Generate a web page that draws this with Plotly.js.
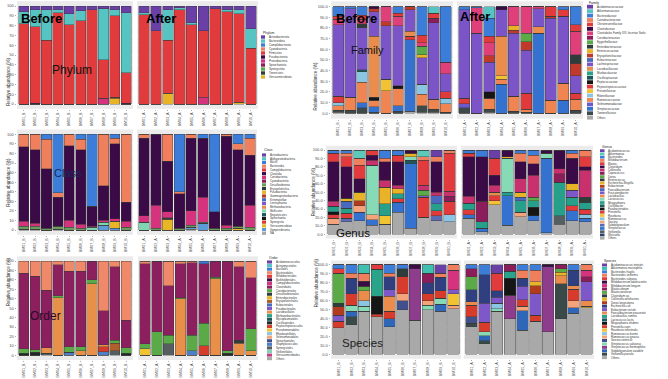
<!DOCTYPE html>
<html><head><meta charset="utf-8">
<script src="https://cdn.plot.ly/plotly-3.0.1.min.js"></script>
<style>html,body{margin:0;padding:0;background:#fff;}#chart{width:668px;height:379px;}</style>
</head><body><div id="chart"></div>
<script>
// ---------------- DATA ----------------
const beforeSamples = ['BM01_B','BM02_B','BM03_B','BM04_B','BM05_B','BM06_B','BM07_B','BM08_B','BM09_B','BM10_B'];
const afterSamples  = ['BM01_A','BM02_A','BM03_A','BM04_A','BM05_A','BM06_A','BM07_A','BM08_A','BM09_A','BM10_A'];
const yTickValues = [0,10,20,30,40,50,60,70,80,90,100];

const phylumTaxa = ['Actinobacteriota','Bacteroidota','Campilobacterota','Cyanobacteria','Firmicutes','Fusobacteriota','Proteobacteria','Spirochaetota','Synergistota','Tenericutes','Verrucomicrobiota'];
const phylumBefore = [
 [6,4,4,4,8,5,4,3,4,7],
 [12,17,31,3,11,10,0,52,6,61],
 [0,0,0,0,0,0,0,0,0,0],
 [0,0,0,0,0,0,0,0,0,0],
 [82,78,65,93,81,85,96,39,83,31],
 [0,1,0,0,0,0,0,0,0,1],
 [0,0,0,0,0,0,0,6,1,0],
 [0,0,0,0,0,0,0,0,0,0],
 [0,0,0,0,0,0,0,0,0,0],
 [0,0,0,0,0,0,0,0,0,0],
 [0,0,0,0,0,0,0,0,6,0]];
const phylumAfter = [
 [7,25,4,2,17,25,3,4,4,23],
 [2,0,31,2,2,0,0,2,4,20],
 [0,0,0,0,0,0,0,0,0,0],
 [0,0,0,0,0,0,0,0,0,0],
 [91,75,54,96,81,68,97,94,90,57],
 [0,0,0,0,0,0,0,0,0,0],
 [0,0,0,0,0,7,0,0,0,0],
 [0,0,0,0,0,0,0,0,0,0],
 [0,0,0,0,0,0,0,0,0,0],
 [0,0,0,0,0,0,0,0,0,0],
 [0,0,11,0,0,0,0,0,2,0]];

const classTaxa = ['Actinobacteria','Alphaproteobacteria','Bacilli','Bacteroidia','Campylobacteria','Clostridia','Coriobacteriia','Cyanobacteriia','Desulfovibrionia','Erysipelotrichia','Fusobacteriia','Gammaproteobacteria','Kiritimatiellae','Lentisphaeria','Methanobacteria','Mollicutes','Negativicutes','Spirochaetia','Synergistia','Verrucomicrobiae','Vampirivibrionia','NA'];
const classBefore = [
 [0,0,0,0,0,0,0,0,0,0],
 [0,0,0,0,0,0,0,0,0,0],
 [0,0,5,61,0,5,75,0,4,0],
 [13,16,31,5,12,11,0,54,6,71],
 [0,0,0,0,0,0,0,0,0,0],
 [78,77,62,30,78,78,21,36,78,20],
 [5,3,0,0,7,4,1,2,3,6],
 [0,0,0,0,0,0,0,0,0,0],
 [3,3,2,3,3,2,0,0,0,3],
 [0,0,0,0,0,0,0,0,0,0],
 [0,0,0,0,0,0,0,0,0,0],
 [0,0,0,0,0,0,0,0,0,0],
 [0,0,0,0,0,0,0,0,0,0],
 [0,0,0,0,0,0,0,0,0,0],
 [0,0,0,0,0,0,0,0,0,0],
 [0,0,0,0,0,0,3,3,0,0],
 [0,0,0,0,0,0,0,0,0,0],
 [0,0,0,0,0,0,0,0,0,0],
 [0,0,0,0,0,0,0,0,0,0],
 [0,0,0,0,0,0,0,0,7,0],
 [0,0,0,0,0,0,0,5,2,0],
 [1,1,0,1,0,0,0,0,0,0]];
const classAfter = [
 [0,0,0,0,0,0,0,0,0,0],
 [0,0,0,0,0,0,0,0,0,0],
 [0,0,0,60,0,4,81,0,10,4],
 [4,0,28,2,4,0,0,2,6,18],
 [0,0,0,0,0,0,0,0,0,0],
 [81,74,53,36,76,62,17,93,80,52],
 [7,24,6,0,15,26,0,3,0,23],
 [0,0,0,0,0,0,0,0,0,0],
 [0,2,0,2,2,1,2,2,2,3],
 [0,0,2,0,0,0,0,0,0,0],
 [0,0,0,0,0,0,0,0,0,0],
 [0,0,0,0,0,0,0,0,0,0],
 [0,0,0,0,0,0,0,0,0,0],
 [0,0,0,0,0,0,0,0,0,0],
 [0,0,0,0,0,0,0,0,0,0],
 [8,0,0,0,0,0,0,0,0,0],
 [0,0,0,0,0,0,0,0,0,0],
 [0,0,0,0,0,0,0,0,0,0],
 [0,0,0,0,0,0,0,0,0,0],
 [0,0,11,0,0,0,0,0,2,0],
 [0,0,0,0,2,7,0,0,0,0],
 [0,0,0,0,1,0,0,0,0,0]];

const orderTaxa = ['Acidaminococcales','Actinomycetales','Bacillales','Bacteroidales','Bifidobacteriales','Burkholderiales','Campylobacterales','Clostridiales','Coriobacteriales','Desulfovibrionales','Enterobacterales','Erysipelotrichales','Eubacteriales','Fusobacteriales','Lactobacillales','Methanobacteriales','Mycoplasmatales','Oscillospirales','Peptostreptococcales','Pseudomonadales','Rhodospirillales','Selenomonadales','Spirochaetales','Staphylococcales','Synergistales','Veillonellales','Verrucomicrobiales','Others'];
const orderBefore = [
 [0,0,0,0,0,0,0,0,0,0],
 [0,0,0,0,0,0,0,0,0,0],
 [0,0,0,0,0,0,0,0,0,0],
 [13,16,31,4,11,11,0,53,6,63],
 [0,0,0,0,0,0,0,0,0,0],
 [0,0,0,0,0,0,0,0,0,0],
 [0,0,0,0,0,0,0,0,0,0],
 [80,78,61,33,80,80,20,36,78,29],
 [5,3,0,2,6,4,4,0,3,6],
 [0,0,0,0,0,0,0,0,0,0],
 [0,0,0,0,0,0,0,0,0,0],
 [0,0,0,0,0,0,0,0,8,0],
 [0,0,0,0,0,0,0,0,0,0],
 [0,0,0,0,0,0,0,0,0,0],
 [0,0,6,61,0,5,76,2,0,0],
 [0,0,0,0,0,0,0,0,0,0],
 [0,0,0,0,0,0,0,0,0,0],
 [2,3,0,0,0,0,0,0,0,2],
 [0,0,0,0,0,0,0,5,0,0],
 [0,0,0,0,0,0,0,0,0,0],
 [0,0,0,0,0,0,0,0,0,0],
 [0,0,0,0,0,0,0,0,0,0],
 [0,0,0,0,0,0,0,0,0,0],
 [0,0,0,0,3,0,0,4,0,0],
 [0,0,2,0,0,0,0,0,5,0],
 [0,0,0,0,0,0,0,0,0,0],
 [0,0,0,0,0,0,0,0,0,0],
 [0,0,0,0,0,0,0,0,0,0]];
const orderAfter = [
 [0,0,0,0,0,0,0,0,0,0],
 [0,0,0,0,0,0,0,0,0,0],
 [0,0,0,0,0,3,0,0,0,0],
 [3,0,26,3,2,0,0,0,6,18],
 [0,0,0,0,0,0,0,0,0,0],
 [0,0,0,0,0,0,0,0,0,0],
 [0,0,0,0,0,0,0,0,0,0],
 [85,75,53,36,77,63,17,95,78,54],
 [5,25,9,1,16,24,2,3,0,23],
 [0,0,0,0,0,0,0,0,3,0],
 [0,0,0,0,0,0,0,0,0,0],
 [0,0,0,0,0,0,0,0,0,0],
 [0,0,0,0,0,0,0,0,0,0],
 [0,0,0,0,0,0,0,0,0,0],
 [0,0,0,60,0,0,81,0,13,5],
 [0,0,0,0,0,0,0,0,0,0],
 [0,0,0,0,0,0,0,0,0,0],
 [0,0,0,0,0,0,0,2,0,0],
 [0,0,0,0,0,10,0,0,0,0],
 [7,0,0,0,0,0,0,0,0,0],
 [0,0,0,0,0,0,0,0,0,0],
 [0,0,0,0,0,0,0,0,0,0],
 [0,0,0,0,0,0,0,0,0,0],
 [0,0,0,0,5,0,0,0,0,0],
 [0,0,12,0,0,0,0,0,0,0],
 [0,0,0,0,0,0,0,0,0,0],
 [0,0,0,0,0,0,0,0,0,0],
 [0,0,0,0,0,0,0,0,0,0]];

const familyTaxa = ['Acidaminococcaceae','Akkermansiaceae','Bacteroidaceae','Carnobacteriaceae','Christensenellaceae','Clostridiaceae','Clostridiales Family XIII. Incertae Sedis','Coriobacteriaceae','Eggerthellaceae','Enterobacteriaceae','Enterococcaceae','Erysipelotrichaceae','Eubacteriaceae','Lachnospiraceae','Lactobacillaceae','Muribaculaceae','Oscillospiraceae','Peptococcaceae','Peptostreptococcaceae','Prevotellaceae','Rikenellaceae','Ruminococcaceae','Selenomonadaceae','Streptococcaceae','Tannerellaceae','Others'];
const familyBefore = [
 [0,0,0,0,0,0,0,0,0,0],
 [0,0,0,0,0,0,0,0,6,0],
 [9,2,8,0,0,6,0,27,0,52],
 [0,0,0,0,0,0,0,0,0,0],
 [3,0,4,0,0,3,0,7,5,0],
 [0,0,0,2,0,0,0,0,0,0],
 [5,0,4,0,14,9,0,3,0,11],
 [0,0,0,0,0,0,0,0,4,0],
 [0,0,0,0,0,0,0,8,0,0],
 [0,0,4,0,0,0,0,0,0,0],
 [0,0,0,0,0,0,0,3,0,0],
 [0,0,0,3,4,0,3,0,0,0],
 [0,0,0,0,0,0,0,0,0,0],
 [67,83,39,23,50,56,20,25,72,17],
 [0,0,0,57,0,0,5,0,0,0],
 [0,0,0,0,0,0,0,0,0,0],
 [0,0,2,0,0,0,0,0,0,0],
 [0,0,0,3,0,3,0,0,0,0],
 [6,0,0,0,0,0,3,0,0,6],
 [0,0,0,0,11,0,0,0,0,0],
 [3,0,10,0,0,0,0,9,0,5],
 [4,12,19,6,21,16,0,11,9,8],
 [0,0,0,0,0,0,0,0,0,0],
 [0,0,5,5,0,5,67,0,0,0],
 [2,3,5,1,0,2,0,6,3,1],
 [1,0,0,0,0,0,2,1,1,0]];
const familyAfter = [
 [0,0,0,0,0,0,0,0,0,0],
 [0,0,11,0,0,0,0,0,0,0],
 [3,1,17,0,0,0,0,0,3,17],
 [0,0,0,0,0,0,0,0,0,0],
 [0,0,6,0,0,0,0,9,6,6],
 [0,0,0,3,0,0,0,0,0,0],
 [0,24,12,0,18,25,2,0,0,22],
 [0,0,0,0,0,0,0,0,0,0],
 [0,0,0,0,0,8,0,0,0,0],
 [0,0,0,0,0,0,0,0,0,8],
 [0,0,0,0,4,0,0,0,0,0],
 [0,0,6,0,3,8,0,2,0,12],
 [0,0,0,0,0,0,0,0,0,0],
 [83,75,28,25,59,40,17,77,63,16],
 [0,0,0,37,0,0,6,0,0,0],
 [0,0,0,0,0,0,0,0,0,0],
 [0,0,0,0,0,0,0,0,0,0],
 [0,0,6,0,0,0,0,0,0,0],
 [5,0,0,0,0,15,0,0,0,6],
 [0,0,0,3,0,0,0,0,0,0],
 [0,0,0,0,0,0,0,0,0,0],
 [0,0,10,5,14,3,0,12,16,10],
 [4,0,0,0,0,0,0,0,0,0],
 [0,0,0,27,0,0,75,0,12,0],
 [5,0,3,0,2,1,0,0,0,3],
 [0,0,1,0,0,0,0,0,0,0]];

const genusTaxa = ['Acidaminococcus','Akkermansia','Bacteroides','Bifidobacterium','Blautia','Clostridium','Collinsella','Coprococcus','Dorea','Enterococcus','Escherichia-Shigella','Eubacterium','Faecalibacterium','Fusicatenibacter','Lactobacillus','Lactococcus','Megasphaera','Oscillibacter','Parabacteroides','Prevotella','Roseburia','Ruminococcus','Sarcina','Subdoligranulum','Streptococcus','Veillonella','Weissella','Others'];
const genusBefore = [
 [0,0,0,0,0,0,0,0,8,0],
 [0,0,10,0,0,0,0,8,0,0],
 [4,4,0,0,10,6,0,0,0,0],
 [0,4,8,0,4,0,0,4,6,4],
 [10,12,16,6,0,8,0,30,0,45],
 [47,37,16,6,22,28,4,0,36,0],
 [6,0,0,6,8,4,0,6,4,6],
 [0,0,0,0,0,0,0,0,0,6],
 [0,0,0,0,0,0,0,6,0,0],
 [0,0,0,0,0,0,0,0,0,0],
 [0,4,10,0,20,6,4,0,0,0],
 [0,0,6,0,0,0,0,0,0,0],
 [0,8,0,0,0,0,0,0,10,0],
 [0,0,0,0,0,0,0,2,0,0],
 [0,0,0,0,0,0,0,0,0,0],
 [0,0,0,59,0,0,4,0,0,0],
 [6,6,0,0,14,6,0,0,8,0],
 [0,0,0,0,0,0,4,0,0,0],
 [4,0,0,0,0,0,0,0,0,0],
 [4,6,0,0,0,4,0,24,6,16],
 [0,0,0,0,10,0,0,0,0,0],
 [0,0,0,0,0,0,0,0,0,8],
 [7,0,8,6,0,0,0,0,0,0],
 [0,4,0,0,0,0,0,0,6,0],
 [0,0,10,6,0,12,77,0,0,0],
 [0,0,0,0,0,0,0,0,0,0],
 [0,0,0,0,0,0,0,0,0,0],
 [12,15,16,11,12,26,7,20,16,15]];
const genusAfter = [
 [0,0,10,0,0,0,0,0,0,0],
 [0,0,0,0,0,0,0,0,0,0],
 [4,8,0,0,4,6,0,0,4,0],
 [0,0,0,0,10,10,0,0,6,8],
 [4,0,20,0,0,0,0,0,0,12],
 [47,53,12,8,20,14,4,22,30,4],
 [8,0,8,0,16,26,0,6,0,32],
 [0,24,0,0,0,0,0,10,0,0],
 [0,0,0,0,0,4,0,0,0,0],
 [0,0,0,0,0,0,0,0,0,6],
 [0,0,0,2,6,0,0,0,8,0],
 [0,0,0,0,0,0,0,0,0,0],
 [0,0,0,0,4,0,0,0,0,0],
 [0,0,0,0,0,0,0,0,8,0],
 [0,0,4,0,0,0,0,0,0,0],
 [0,0,0,40,0,0,6,0,0,0],
 [8,8,0,4,14,8,0,40,10,8],
 [0,0,0,0,0,0,0,0,0,0],
 [0,0,0,0,0,10,0,0,0,0],
 [6,0,6,0,0,0,0,0,6,6],
 [0,0,5,0,0,0,0,0,0,0],
 [0,0,0,0,0,0,0,0,0,5],
 [0,0,0,0,5,0,0,0,0,0],
 [0,0,0,0,0,0,0,0,0,0],
 [4,4,0,35,0,6,88,0,12,4],
 [0,0,0,0,0,0,0,10,0,0],
 [0,0,0,0,0,0,0,0,0,0],
 [19,3,35,11,21,16,2,12,16,15]];

const speciesTaxa = ['Acidaminococcus intestini','Akkermansia muciniphila','Bacteroides fragilis','Bacteroides uniformis','Bacteroides vulgatus','Bifidobacterium adolescentis','Bifidobacterium longum','Blautia obeum','Blautia wexlerae','Clostridium sp.','Collinsella aerofaciens','Dorea longicatena','Escherichia coli','Eubacterium rectale','Faecalibacterium prausnitzii','Lactobacillus ruminis','Lactococcus lactis','Megasphaera elsdenii','Prevotella copri','Roseburia intestinalis','Ruminococcus bromii','Ruminococcus gnavus','Sarcina ventriculi','Streptococcus salivarius','Streptococcus thermophilus','Subdoligranulum variabile','Veillonella parvula','Others'];
const speciesBefore = [
 [0,0,0,0,0,0,0,0,9,0],
 [0,0,9,0,0,0,0,9,0,0],
 [4,9,0,0,9,4,0,0,0,0],
 [0,6,9,0,4,0,0,0,5,6],
 [5,0,0,5,0,0,0,0,0,0],
 [0,0,6,0,0,0,4,0,0,0],
 [0,0,0,0,0,0,0,0,0,22],
 [0,0,0,0,0,0,0,11,0,0],
 [34,0,5,0,0,0,0,0,0,0],
 [4,0,0,0,0,9,0,0,0,0],
 [0,0,0,0,0,0,0,0,0,0],
 [9,0,0,0,0,0,0,0,0,0],
 [0,17,0,0,15,0,0,12,15,0],
 [7,0,0,0,7,0,0,0,0,4],
 [0,0,11,0,17,0,0,0,0,0],
 [0,0,0,30,0,0,0,0,0,0],
 [0,0,0,0,0,0,0,0,0,0],
 [0,0,0,20,0,0,0,0,0,0],
 [7,13,0,3,8,19,0,8,8,0],
 [0,0,0,0,0,0,0,0,0,13],
 [0,0,6,0,0,0,0,0,0,0],
 [0,0,0,0,0,8,0,5,0,4],
 [0,0,0,0,0,10,0,0,0,0],
 [0,7,6,0,0,0,0,5,7,0],
 [0,0,0,0,0,0,58,0,0,0],
 [0,6,0,0,9,0,0,0,8,0],
 [0,9,0,0,0,0,0,0,0,0],
 [30,33,48,42,31,50,38,50,48,51]];
const speciesAfter = [
 [0,0,9,0,0,0,0,0,0,0],
 [0,0,0,0,0,0,0,0,0,0],
 [4,11,0,0,6,6,0,0,6,0],
 [0,0,0,0,9,13,0,0,0,6],
 [0,0,20,0,0,0,0,0,0,0],
 [0,0,0,0,0,0,2,0,0,0],
 [0,0,0,0,0,0,0,0,0,7],
 [9,0,0,7,0,0,0,4,0,6],
 [15,0,0,0,0,0,0,4,0,0],
 [0,0,0,0,0,0,0,0,0,0],
 [0,0,0,0,0,4,0,4,0,0],
 [0,0,0,0,0,9,0,0,0,0],
 [13,32,7,0,9,0,0,0,17,0],
 [0,21,7,0,15,24,0,0,0,21],
 [4,0,0,0,0,0,0,9,4,6],
 [0,0,0,8,0,0,0,0,0,0],
 [0,0,0,0,0,0,0,0,0,0],
 [0,0,0,19,0,0,0,0,0,0],
 [13,11,0,0,7,7,0,0,13,0],
 [0,0,0,0,0,0,0,0,0,2],
 [0,0,6,0,0,0,0,0,0,0],
 [0,0,0,0,5,0,0,0,8,0],
 [7,0,0,0,0,0,0,0,0,0],
 [0,4,3,0,0,0,0,0,0,0],
 [0,0,0,26,0,0,73,0,0,0],
 [0,6,0,0,22,0,0,0,6,0],
 [4,3,0,0,0,0,0,39,0,0],
 [31,12,48,40,27,37,25,40,46,52]];

// ---------------- STYLES ----------------
const phylumColors = ['#6A3FA6','#56C4C2','#3B7DD8','#F07F5E','#E23B3D','#3A0B47','#D6337E','#8A1D5A','#5AAA47','#2E3D3A','#E8B326'];
const classColors = ['#6A3FA6','#56C4C2','#3B7DD8','#F07F5E','#E23B3D','#3A0B47','#D6337E','#8A1D5A','#6E9A5E','#2E3D3A','#E8B326','#B23A1F','#4A68BE','#7E58C9','#E98C4C','#7FD5B2','#1D5959','#161616','#D63B2B','#E8B526','#5C9BD6','#A9A9A9'];
const orderColors = ['#6A3FA6','#56C4C2','#3B7DD8','#F0896A','#E23B3D','#3A0B47','#D6337E','#8C1F5E','#5AAA47','#2E3D3A','#E8B326','#B0602A','#4A68BE','#7E58C9','#E8904A','#2AA38B','#1D5959','#1F2A26','#D63B2B','#F1C232','#8AC5E4','#F4A37A','#41508B','#4C7FC8','#555E60','#7FD5B2','#C04080','#A9A9A9'];
const familyColors = ['#6A3FA6','#56C4C2','#3B7DD8','#F07F5E','#E23B3D','#3A0B47','#E0407A','#8A1D5A','#5AAA47','#2E3D3A','#E8B326','#C0392B','#4A68BE','#7B55C8','#E98C4C','#2AA38B','#1D5959','#161616','#E03A3A','#F1C232','#8AC5E4','#F08552','#6A5ACD','#3572D0','#3D4A49','#A9A9A9'];
const genusColors = ['#6A3FA6','#5CCAB8','#3B7DD8','#F07F5E','#E23B3D','#3A0B47','#C8306E','#8A1D5A','#5AAA47','#2E3D3A','#E8B326','#B23A1F','#4A68BE','#7E58C9','#E98C4C','#86DAB5','#26A08A','#1D5959','#161616','#E03A3A','#F1C232','#8AC5E4','#F4A37A','#5B6BB0','#3572D0','#555E60','#2C3E6B','#A9A9A9'];
const speciesColors = ['#6A3FA6','#3FBFB0','#3B7DD8','#F07F5E','#E23B3D','#3A0B47','#D6337E','#8A1D5A','#5AAA47','#2E3D3A','#E8B326','#B23A1F','#2F3F80','#7E58C9','#E98C4C','#2AA38B','#1D5959','#161616','#D63B2B','#F1C232','#8AC5E4','#F4A37A','#41508B','#86DAB5','#8E3C8C','#2E66B8','#3A4A48','#A9A9A9'];

const W = 668, H = 379;
const px = v => v / W, py = v => 1 - v / H;
const data = [];
const shapes = [];
const annotations = [];
const layout = {
  width: W, height: H, margin: {l:0, r:0, t:0, b:0},
  paper_bgcolor: '#FFFFFF', plot_bgcolor: '#EBEBEB',
  barmode: 'stack', bargap: 0.1, showlegend: false,
  font: {family: 'Liberation Sans, Arial, sans-serif', color: '#4D4D4D'},
  shapes: shapes, annotations: annotations
};

function addPanel(idx, taxa, colors, beforeM, afterM, g, decimals) {
  const facets = [[beforeM, beforeSamples, g.bx, true], [afterM, afterSamples, g.ax, false]];
  facets.forEach(([M, samples, xr, first], f) => {
    const n = idx * 2 + f + 1;
    const xa = n === 1 ? 'x' : 'x' + n;
    const ya = n === 1 ? 'y' : 'y' + n;
    for (let i = taxa.length - 1; i >= 0; i--) {
      if (M[i].every(v => v === 0)) continue;
      data.push({type: 'bar', x: samples, y: M[i], name: taxa[i], xaxis: xa, yaxis: ya,
        marker: {color: colors[i], line: {color: '#3A3A3A', width: 0.4}},
        hoverinfo: 'name+y', showlegend: false});
    }
    const sfx = n === 1 ? '' : String(n);
    layout['xaxis' + sfx] = {domain: [px(xr[0]), px(xr[1])], anchor: ya, type: 'category',
      range: [-0.6, 9.6], tickmode: 'array', tickvals: samples, ticktext: samples, tickangle: -90,
      tickfont: {size: 3.6, color: '#4D4D4D'}, ticks: 'outside', ticklen: 1.2, tickwidth: 0.4, tickcolor: '#333',
      showgrid: false, zeroline: false, showline: false, fixedrange: true};
    layout['yaxis' + sfx] = {domain: [py(g.y[1]), py(g.y[0])], anchor: xa, range: [-5, 105],
      tickmode: 'array', tickvals: yTickValues, ticktext: yTickValues.map(v => v.toFixed(decimals)),
      showticklabels: first, ticks: first ? 'outside' : '', ticklen: 1.5, tickwidth: 0.4, tickcolor: '#333',
      tickfont: {size: 4, color: '#4D4D4D'}, showgrid: true, gridcolor: '#FFFFFF', gridwidth: 0.5,
      zeroline: false, showline: false, fixedrange: true};
  });
  annotations.push({text: 'Relative abundance (%)', x: px(g.yt), y: py((g.y[0] + g.y[1]) / 2),
    xref: 'paper', yref: 'paper', showarrow: false, textangle: -90, font: {size: 4.5, color: '#333'}});
  const L = g.leg;
  annotations.push({text: L.title, x: px(L.x), y: py(L.ty), xref: 'paper', yref: 'paper', xanchor: 'left', yanchor: 'middle',
    showarrow: false, font: {size: 3.4, color: '#222'}});
  taxa.forEach((t, i) => {
    const yc = L.y0 + i * L.dy;
    shapes.push({type: 'rect', xref: 'paper', yref: 'paper', x0: px(L.x), x1: px(L.x + L.sw),
      y0: py(yc + L.sh / 2), y1: py(yc - L.sh / 2), fillcolor: colors[i], line: {width: 0}});
    annotations.push({text: t, x: px(L.x + L.sw + 1.5), y: py(yc), xref: 'paper', yref: 'paper',
      xanchor: 'left', yanchor: 'middle', showarrow: false, font: {size: 2.8, color: '#333'}});
  });
}

addPanel(0, phylumTaxa, phylumColors, phylumBefore, phylumAfter,
  {bx: [17, 133], ax: [137, 258], y: [1.1, 108.9], yt: 4,
   leg: {title: 'Phylum', x: 261, ty: 33, y0: 37, dy: 4.0, sw: 4, sh: 3.4}}, 0);
addPanel(1, classTaxa, classColors, classBefore, classAfter,
  {bx: [17, 133], ax: [137, 257], y: [129.5, 234.8], yt: 4,
   leg: {title: 'Class', x: 262, ty: 150, y0: 155, dy: 3.73, sw: 4, sh: 3.2}}, 0);
addPanel(2, orderTaxa, orderColors, orderBefore, orderAfter,
  {bx: [17, 133], ax: [138, 258], y: [256.3, 360], yt: 4,
   leg: {title: 'Order', x: 267, ty: 257.5, y0: 262, dy: 3.58, sw: 5, sh: 3.1}}, 0);
addPanel(3, familyTaxa, familyColors, familyBefore, familyAfter,
  {bx: [331, 453], ax: [457, 583], y: [1.3, 118.6], yt: 315,
   leg: {title: 'Family', x: 587, ty: 2.5, y0: 6.7, dy: 4.44, sw: 6, sh: 3.8}}, 1);
addPanel(4, genusTaxa, genusColors, genusBefore, genusAfter,
  {bx: [326, 457], ax: [461, 593], y: [145.8, 238.5], yt: 313,
   leg: {title: 'Genus', x: 600, ty: 147, y0: 150.7, dy: 3.24, sw: 4.5, sh: 2.8}}, 1);
addPanel(5, speciesTaxa, speciesColors, speciesBefore, speciesAfter,
  {bx: [331, 461], ax: [464, 594], y: [260.5, 358.8], yt: 316,
   leg: {title: 'Species', x: 602, ty: 261, y0: 265, dy: 3.43, sw: 5, sh: 3.0}}, 1);

function label(text, x, y, size, bold, color) {
  annotations.push({text: bold ? '<b>' + text + '</b>' : text, x: px(x), y: py(y), xref: 'paper', yref: 'paper',
    showarrow: false, xanchor: 'center', yanchor: 'middle',
    font: {size: size, color: color, family: 'Liberation Sans, Arial, sans-serif'}});
}
label('Before', 41, 18, 13, true, '#000');
label('After', 161, 18, 13, true, '#000');
label('Phylum', 72, 70, 12, false, '#111');
label('Class', 68, 173, 11, false, '#1B2A5E');
label('Order', 45, 316, 12, false, '#2A0A2A');
label('Before', 356, 18, 13, true, '#000');
label('After', 475, 17, 13, true, '#000');
label('Family', 367, 50, 11, false, '#111');
label('Genus', 353, 233, 11.5, false, '#111');
label('Species', 362, 343, 11.5, false, '#222');

Plotly.newPlot('chart', data, layout, {staticPlot: true, displayModeBar: false});
</script>
</body></html>
